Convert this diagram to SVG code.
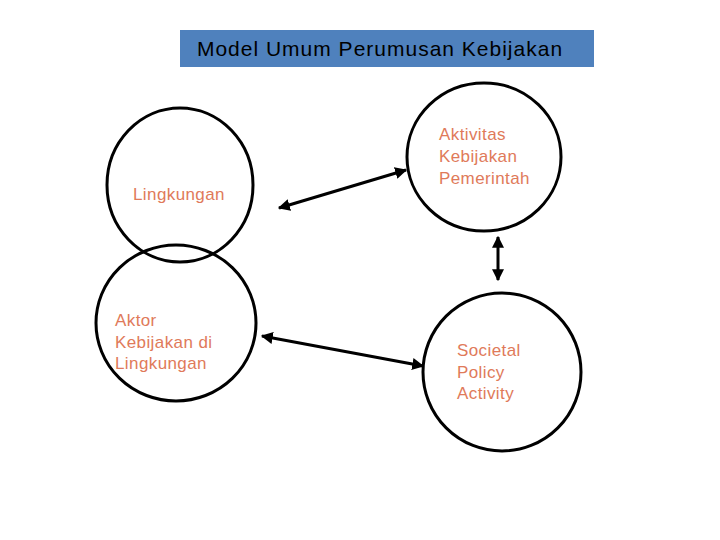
<svg xmlns="http://www.w3.org/2000/svg" width="720" height="540" viewBox="0 0 720 540">
<style>
.c{fill:none;stroke:#000;stroke-width:3}
.t{font-family:"Liberation Sans",Arial,sans-serif;font-size:17px;letter-spacing:0.4px;fill:#e07a5a}
.a{stroke:#000;stroke-width:3;marker-start:url(#h);marker-end:url(#h)}
</style>
<defs><marker id="h" viewBox="0 0 10 10" refX="9" refY="5" markerWidth="4" markerHeight="4" orient="auto-start-reverse"><path d="M0,0L10,5L0,10z" fill="#000"/></marker></defs>
<rect width="720" height="540" fill="#fff"/>
<g id="title"><rect x="180" y="30" width="414" height="37" fill="#4f81bd"/>
<text x="380" y="56" text-anchor="middle" font-family="Liberation Sans,Arial,sans-serif" font-size="21" letter-spacing="1" fill="#000">Model Umum Perumusan Kebijakan</text></g>
<g id="lingkungan"><ellipse class="c" cx="180" cy="185" rx="73" ry="77"/><text class="t" x="133" y="200">Lingkungan</text></g>
<g id="aktor"><ellipse class="c" cx="176" cy="323" rx="80" ry="78"/><text class="t" x="115" y="326">Aktor</text><text class="t" x="115" y="348">Kebijakan di</text><text class="t" x="115" y="369">Lingkungan</text></g>
<g id="aktivitas"><ellipse class="c" cx="484" cy="157" rx="77" ry="74"/><text class="t" x="439" y="140">Aktivitas</text><text class="t" x="439" y="162">Kebijakan</text><text class="t" x="439" y="184">Pemerintah</text></g>
<g id="societal"><ellipse class="c" cx="502" cy="372" rx="79" ry="79"/><text class="t" x="457" y="356">Societal</text><text class="t" x="457" y="378">Policy</text><text class="t" x="457" y="399">Activity</text></g>
<g id="connectors">
<line class="a" x1="279" y1="208" x2="406" y2="170"/>
<line class="a" x1="498" y1="237" x2="498" y2="280"/>
<line class="a" x1="262" y1="336" x2="423" y2="366"/>
</g>
</svg>
